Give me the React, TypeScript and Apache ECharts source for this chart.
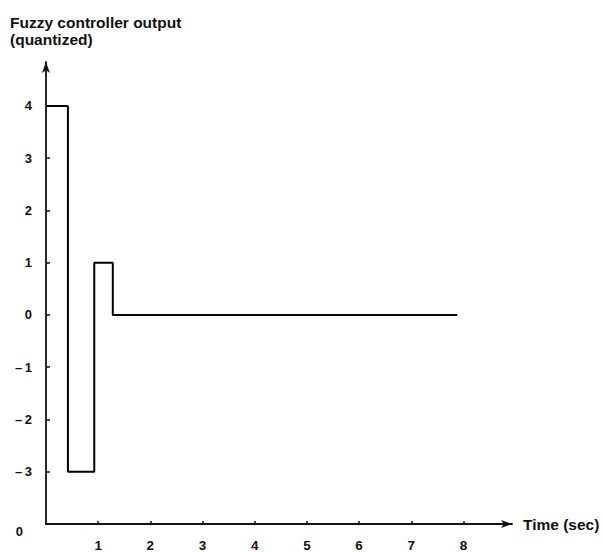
import React, { useEffect, useRef } from "react";
import * as echarts from "echarts";

// Step signal: value holds from each time until the next time
const switchTimes = [0, 0.42, 0.925, 1.28, 7.88];
const outputLevels = [4, -3, 1, 0, 0];

const xTicks = [1, 2, 3, 4, 5, 6, 7, 8];
const yTicks = [-3, -2, -1, 0, 1, 2, 3, 4];
const yLabelValues = [-4, -3, -2, -1, 0, 1, 2, 3, 4];
const originLabel = "0";

const titleText = "Fuzzy controller output\n(quantized)";
const xName = "Time (sec)";

const FONT = "'Liberation Sans', Arial, Helvetica, sans-serif";

export default function App() {
  const ref = useRef<HTMLDivElement>(null);

  useEffect(() => {
    if (!ref.current) return;
    const chart = echarts.init(ref.current, undefined, { renderer: "svg" });
    const data = switchTimes.map((t, i) => [t, outputLevels[i]]);
    chart.setOption({
      animation: false,
      backgroundColor: "#fff",
      title: {
        text: titleText,
        left: 5,
        top: 9,
        textStyle: {
          fontFamily: FONT,
          fontSize: 15.5,
          fontWeight: "bold",
          color: "#111",
          lineHeight: 17,
        },
      },
      grid: { left: 46, top: 62, right: 91, bottom: 28, containLabel: false },
      xAxis: {
        type: "value",
        min: 0,
        max: 8.93,
        name: xName,
        nameLocation: "end",
        nameGap: 11,
        nameTextStyle: {
          fontFamily: FONT,
          fontSize: 15.5,
          fontWeight: "bold",
          color: "#111",
          verticalAlign: "middle",
          padding: [2, 0, 0, 0],
        },
        splitLine: { show: false },
        axisLine: {
          onZero: false,
          symbol: ["none", "arrow"],
          symbolSize: [6, 11],
          lineStyle: { color: "#111", width: 1.8 },
        },
        axisTick: {
          inside: true,
          length: 3,
          customValues: xTicks,
          lineStyle: { color: "#111", width: 1.5 },
        },
        axisLabel: {
          customValues: xTicks,
          margin: 14,
          fontFamily: FONT,
          fontSize: 13.5,
          fontWeight: "bold",
          color: "#111",
        },
      },
      yAxis: {
        type: "value",
        min: -4,
        max: 4.84,
        splitLine: { show: false },
        axisLine: {
          onZero: false,
          symbol: ["none", "arrow"],
          symbolSize: [6, 11],
          lineStyle: { color: "#111", width: 1.8 },
        },
        axisTick: {
          inside: true,
          length: 4,
          customValues: yTicks,
          lineStyle: { color: "#111", width: 1.5 },
        },
        axisLabel: {
          customValues: yLabelValues,
          margin: 14,
          fontFamily: FONT,
          fontSize: 13,
          fontWeight: "bold",
          color: "#111",
          formatter: (v: number) => {
            if (v === -4) return "{o|" + originLabel + "}";
            if (v < 0) return "\u2013\u2009" + Math.abs(v);
            return String(v);
          },
          rich: {
            o: {
              fontFamily: FONT,
              fontSize: 13,
              fontWeight: "bold",
              color: "#111",
              padding: [14, 9, 0, 0],
            },
          },
        },
      },
      series: [
        {
          type: "line",
          step: "end",
          data,
          symbol: "none",
          lineStyle: { color: "#000", width: 2 },
        },
      ],
    });
    return () => chart.dispose();
  }, []);

  return (
    <div
      ref={ref}
      style={{ position: "fixed", left: 0, top: 0, width: 603, height: 552 }}
    />
  );
}
